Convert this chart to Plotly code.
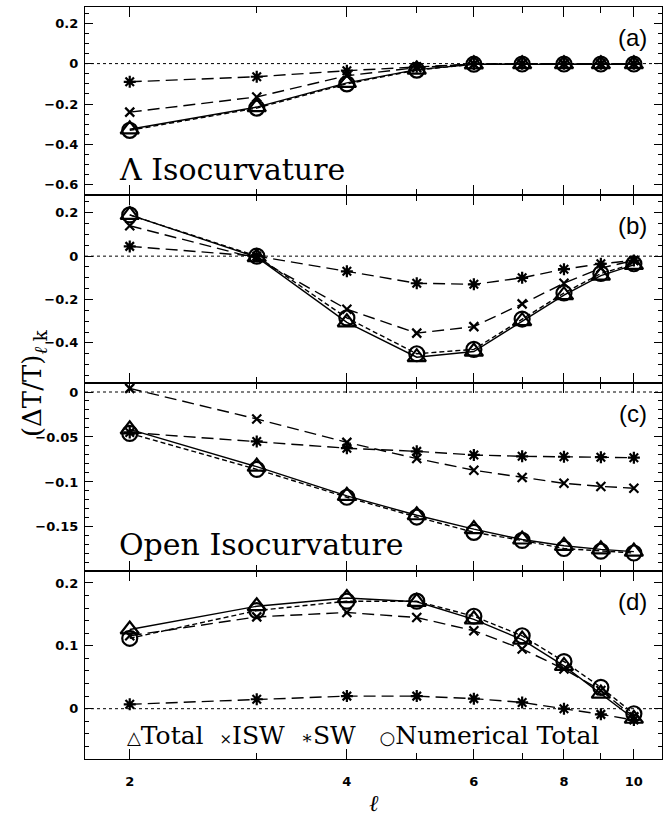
import plotly.graph_objects as go
from plotly.subplots import make_subplots

# multipole index
ell = [2, 3, 4, 5, 6, 7, 8, 9, 10]

# (a) Lambda isocurvature
a_total = [-0.325, -0.215, -0.095, -0.030, -0.004, -0.003, -0.003, -0.003, -0.003]
a_num = [-0.330, -0.220, -0.100, -0.032, -0.003, -0.002, -0.002, -0.002, -0.002]
a_isw = [-0.240, -0.165, -0.060, -0.020, -0.002, -0.001, -0.001, -0.001, -0.001]
a_sw = [-0.090, -0.065, -0.035, -0.015, -0.002, -0.001, -0.001, -0.001, -0.001]

# (b)
b_total = [0.190, -0.005, -0.305, -0.466, -0.440, -0.300, -0.180, -0.090, -0.040]
b_num = [0.190, 0.000, -0.285, -0.450, -0.430, -0.290, -0.170, -0.080, -0.035]
b_isw = [0.140, -0.010, -0.245, -0.355, -0.325, -0.220, -0.125, -0.055, -0.020]
b_sw = [0.045, 0.000, -0.070, -0.125, -0.130, -0.100, -0.060, -0.035, -0.020]

# (c) open isocurvature
c_total = [-0.0415, -0.083, -0.1155, -0.137, -0.1525, -0.164, -0.171, -0.175, -0.1775]
c_num = [-0.046, -0.086, -0.117, -0.139, -0.156, -0.165, -0.174, -0.177, -0.179]
c_isw = [0.004, -0.030, -0.056, -0.074, -0.087, -0.095, -0.1015, -0.105, -0.107]
c_sw = [-0.045, -0.055, -0.0625, -0.066, -0.070, -0.0715, -0.072, -0.0725, -0.073]

# (d)
d_total = [0.126, 0.163, 0.176, 0.170, 0.142, 0.110, 0.068, 0.024, -0.016]
d_num = [0.112, 0.156, 0.171, 0.171, 0.147, 0.116, 0.075, 0.034, -0.008]
d_isw = [0.116, 0.146, 0.153, 0.145, 0.124, 0.095, 0.063, 0.029, -0.013]
d_sw = [0.007, 0.015, 0.020, 0.020, 0.016, 0.010, 0.000, -0.009, -0.018]

panels = [
    (a_total, a_num, a_isw, a_sw),
    (b_total, b_num, b_isw, b_sw),
    (c_total, c_num, c_isw, c_sw),
    (d_total, d_num, d_isw, d_sw),
]
panel_tags = ["(a)", "(b)", "(c)", "(d)"]
y_ranges = [[-0.65, 0.28], [-0.585, 0.282], [-0.199, 0.010], [-0.080, 0.219]]

# labelled y ticks per panel
y_tickvals = [
    [0.2, 0, -0.2, -0.4, -0.6],
    [0.2, 0, -0.2, -0.4],
    [0, -0.05, -0.1, -0.15],
    [0.2, 0.1, 0],
]
y_minor = [0.05, 0.05, 0.01, 0.02]

ell_major = [2, 4, 6, 8, 10]
ell_minor = [3, 5, 7, 9]


def fmt(v):
    if v == 0:
        return "0"
    s = f"{abs(v):g}"
    return ("\u2212" if v < 0 else "") + s


fig = make_subplots(rows=4, cols=1, shared_xaxes=True, vertical_spacing=0)

styles = [
    # (marker symbol, size, line dash)
    ("triangle-up-open", 16, "solid"),
    ("circle-open", 15, "5px,3px"),
    ("x-thin-open", 9, "12px,6px"),
    ("asterisk-open", 10, "12px,6px"),
]
names = ["Total", "Numerical Total", "ISW", "SW"]

tick_font = dict(family="DejaVu Sans", size=13, color="black", weight="bold")

for r, series in enumerate(panels, start=1):
    for vals, (sym, size, dash), name in zip(series, styles, names):
        fig.add_trace(
            go.Scatter(
                x=ell, y=vals, mode="lines+markers", name=name, showlegend=False,
                line=dict(color="black", width=1.4, dash=dash),
                marker=dict(symbol=sym, size=size, color="black",
                            line=dict(color="black", width=2.2)),
            ),
            row=r, col=1,
        )
    # dotted zero reference
    fig.add_hline(y=0, line=dict(color="black", width=1, dash="dot"), row=r, col=1)

    tv = y_tickvals[r - 1]
    fig.update_yaxes(
        range=y_ranges[r - 1], tickmode="array", tickvals=tv,
        ticktext=[fmt(v) for v in tv],
        ticks="inside", ticklen=8, tickwidth=1.2, tickcolor="black",
        minor=dict(dtick=y_minor[r - 1], tick0=0, ticks="inside", ticklen=4,
                   tickcolor="black", showgrid=False),
        showline=True, linecolor="black", linewidth=1.3, mirror="allticks",
        showgrid=False, zeroline=False,
        tickfont=tick_font, ticklabelstandoff=3,
        row=r, col=1,
    )
    fig.update_xaxes(
        type="log", range=[0.239, 1.039],
        tickmode="array", tickvals=ell_major, ticktext=[str(v) for v in ell_major],
        ticks="inside", ticklen=10, tickwidth=1.2, tickcolor="black",
        minor=dict(tickmode="array", tickvals=ell_minor, ticks="inside",
                   ticklen=6, tickcolor="black", showgrid=False),
        showline=True, linecolor="black", linewidth=1.3, mirror="allticks",
        showgrid=False, zeroline=False,
        tickfont=tick_font, ticklabelstandoff=10,
        row=r, col=1,
    )
    yref = "y domain" if r == 1 else f"y{r} domain"
    xref = "x domain" if r == 1 else f"x{r} domain"
    fig.add_annotation(
        text=panel_tags[r - 1], xref=xref, yref=yref, x=0.978, y=0.84,
        xanchor="right", yanchor="middle", showarrow=False,
        font=dict(family="Liberation Sans", size=24, color="black"),
    )

serif = "DejaVu Serif"
fig.add_annotation(
    text="Λ Isocurvature", xref="x domain", yref="y domain", x=0.055, y=0.135,
    xanchor="left", yanchor="middle", showarrow=False,
    font=dict(family=serif, size=30, color="black"),
)
fig.add_annotation(
    text="Open Isocurvature", xref="x3 domain", yref="y3 domain", x=0.055, y=0.14,
    xanchor="left", yanchor="middle", showarrow=False,
    font=dict(family=serif, size=30, color="black"),
)
fig.add_annotation(
    text="<span style='font-size:18px'>△</span>Total  <span style='font-size:15px'>×</span>ISW  "
         "<span style='font-size:18px'>∗</span>SW   <span style='font-size:18px'>○</span>Numerical Total",
    xref="x4 domain", yref="y4 domain", x=0.07, y=0.125,
    xanchor="left", yanchor="middle", showarrow=False,
    font=dict(family=serif, size=25, color="black"),
)
fig.add_annotation(
    text="(ΔT/T)<sub><i>ℓ</i> k</sub>", xref="paper", yref="paper", x=-0.09, y=0.5,
    xanchor="center", yanchor="middle", textangle=-90, showarrow=False,
    font=dict(family=serif, size=26, color="black"),
)
fig.add_annotation(
    text="<i>ℓ</i>", xref="paper", yref="paper", x=0.5, y=-0.0785,
    xanchor="center", yanchor="bottom", showarrow=False,
    font=dict(family=serif, size=23, color="black"),
)

fig.update_layout(
    width=665, height=820,
    margin=dict(l=85, r=3, t=7, b=61),
    plot_bgcolor="white", paper_bgcolor="white",
    showlegend=False,
)

fig.write_html("out.html")
